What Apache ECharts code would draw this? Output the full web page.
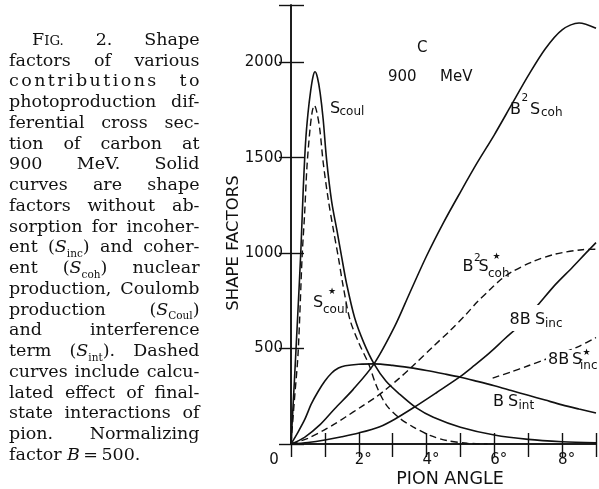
<!DOCTYPE html>
<html><head><meta charset="utf-8">
<script src="https://cdn.jsdelivr.net/npm/echarts@6/dist/echarts.min.js"></script>
<style>html,body{margin:0;padding:0;background:#fff}#c{width:599px;height:489px}</style>
</head><body><div id="c"></div>
<script>
// ---------------- data ----------------
const xTickValues = [2, 4, 6, 8];            // labelled pion angles (deg)
const yTickValues = [500, 1000, 1500, 2000]; // labelled shape factors

const scoulX = [0,0.1,0.2,0.29,0.36,0.43,0.5,0.58,0.65,0.71,0.78,0.86,0.95,1.05,1.2,1.36,1.5,1.64,1.88,2.15,2.45,2.8,3.2,3.7,4.2,5.0,6.0,7.0,8.0,9.0];
const scoulY = [0,330,680,1010,1330,1580,1730,1850,1925,1950,1920,1840,1700,1490,1270,1115,975,840,660,530,420,330,262,189,140,88,47,24,12,6];

const scoulStarX = [0,0.1,0.21,0.33,0.4,0.47,0.56,0.63,0.69,0.76,0.85,0.95,1.1,1.25,1.4,1.54,1.74,2.0,2.29,2.52,2.81,3.2,3.6,4.1,4.6,5.2,5.8];
const scoulStarY = [0,230,478,990,1200,1450,1648,1745,1775,1740,1648,1475,1280,1123,975,826,651,530,420,305,205,136,90,45,18,4,0];

const cohX = [0,0.4,0.85,1.29,1.83,2.45,3.06,3.5,4.0,4.5,5.0,5.5,6.0,6.5,7.0,7.5,8.0,8.5,9.0];
const cohY = [0,35,100,185,285,420,616,790,985,1160,1320,1475,1620,1775,1930,2070,2170,2206,2178];

const cohStarX = [0,0.5,1.0,1.29,1.6,2.08,2.5,2.76,3.2,3.6,4.19,4.7,5.17,5.5,5.85,6.15,6.5,7.13,7.8,8.6,9.0];
const cohStarY = [0,30,75,105,140,196,245,280,345,410,510,595,680,745,805,855,900,955,995,1018,1020];

const incX = [0,0.5,1,1.5,2,2.62,3.06,3.7,4.3,4.97,5.4,5.85,6.3,6.8,7.27,7.8,8.3,8.7,9.0];
const incY = [0,8,21,38,58,91,130,200,270,350,410,476,550,630,725,835,925,1000,1055];

const incStarX = [5.95,6.5,7.0,7.47,8.0,8.5,9.0];
const incStarY = [345,378,410,441,475,512,558];

const intX = [0,0.2,0.41,0.6,0.8,1.0,1.2,1.4,1.6,2.0,2.45,3.0,3.5,4.0,4.5,5.0,5.5,6.0,6.5,7.0,7.5,8.0,8.5,9.0];
const intY = [0,60,130,210,275,330,372,398,410,418,420,412,400,385,368,350,328,305,280,255,230,205,183,162];

const captionLines = [
  "F{sc:IG.} 2. Shape",
  "factors of various",
  "~contributions to",
  "photoproduction dif-",
  "ferential cross sec-",
  "tion of carbon at",
  "900 MeV. Solid",
  "curves are shape",
  "factors without ab-",
  "sorption for incoher-",
  "ent ({i:S}{sub:inc}) and coher-",
  "ent ({i:S}{sub:coh}) nuclear",
  "production, Coulomb",
  "production ({i:S}{sub:Coul})",
  "and interference",
  "term ({i:S}{sub:int}). Dashed",
  "curves include calcu-",
  "lated effect of final-",
  "state interactions of",
  "pion. Normalizing",
  "factor {i:B}\u2009=\u2009500."
];

// ---------------- helpers ----------------
const zip = (xs, ys) => xs.map((x, i) => [x, ys[i]]);
const SANS = '"DejaVu Sans", sans-serif';
const SERIF = '"DejaVu Serif", serif';
function txt(t, x, base, size, o) {
  o = o || {};
  return {
    type: 'text', x: x, y: base - 0.35 * size, z: 100, silent: true,
    scaleX: o.scaleX || 1,
    rotation: o.rotation || 0,
    style: {
      text: t,
      font: (o.italic ? 'italic ' : '') + size + 'px ' + (o.family || SANS),
      fill: o.fill || '#111',
      textAlign: o.align || 'left', align: o.align || 'left',
      textVerticalAlign: 'middle', verticalAlign: 'middle'
    }
  };
}

// ---------------- caption (justified) ----------------
const graphics = [];
const ctx = document.createElement('canvas').getContext('2d');
const F = 17.5;
function fontStr(s) { return (s.it ? 'italic ' : '') + s.size + 'px ' + SERIF; }
function parseWord(w) {
  const segs = [];
  const re = /\{(i|sub|sc):([^}]*)\}|([^{]+)/g;
  let m;
  while ((m = re.exec(w))) {
    if (m[3]) segs.push({ t: m[3], size: F, it: false, dy: 0 });
    else if (m[1] === 'i') segs.push({ t: m[2], size: F, it: true, dy: 0 });
    else if (m[1] === 'sub') segs.push({ t: m[2], size: F * 0.6, it: false, dy: F * 0.22 });
    else segs.push({ t: m[2], size: F * 0.76, it: false, dy: 0 });
  }
  segs.forEach(s => { ctx.font = fontStr(s); s.w = ctx.measureText(s.t).width; });
  return segs;
}
const capLeft = 9, capRight = 199.5, capBase0 = 46.5, capStep = 20.75;
captionLines.forEach((raw, li) => {
  let line = raw, spaced = false;
  if (line[0] === '~') { spaced = true; line = line.slice(1); }
  const base = capBase0 + li * capStep;
  const left = li === 0 ? 32 : capLeft;
  let words = line.split(' ').map(parseWord);
  if (spaced) {
    words = words.map(ws => {
      const out = [];
      ws.forEach(s => s.t.split('').forEach(ch => {
        const c = { t: ch, size: s.size, it: s.it, dy: s.dy };
        ctx.font = fontStr(c); c.w = ctx.measureText(ch).width; out.push(c);
      }));
      return out;
    });
  }
  const ls = spaced ? 2.4 : 0;
  const wWidth = ws => ws.reduce((a, s) => a + s.w, 0) + ls * (ws.length - 1);
  const widths = words.map(wWidth);
  const sum = widths.reduce((a, b) => a + b, 0);
  const last = li === captionLines.length - 1;
  let gap = last ? F * 0.3 : (words.length > 1 ? (capRight - left - sum) / (words.length - 1) : 0);
  let sc = 1;
  if (!last && gap < F * 0.2) { gap = F * 0.2; sc = (capRight - left - gap * (words.length - 1)) / sum; }
  let x = left;
  words.forEach((ws) => {
    ws.forEach(s => {
      graphics.push(txt(s.t, x, base + s.dy, s.size, { family: SERIF, italic: s.it, scaleX: sc }));
      x += s.w * sc + ls;
    });
    x -= ls;
    x += gap;
  });
});

// ---------------- chart labels ----------------
const yTitle = txt('SHAPE FACTORS', 0, 0, 16.5, { align: 'center' });
yTitle.x = 234; yTitle.y = 243; yTitle.rotation = Math.PI / 2;
graphics.push(yTitle);
graphics.push(txt('PION ANGLE', 450, 486, 17.5, { align: 'center' }));
graphics.push(txt('C', 417, 53, 15));
graphics.push(txt('900', 388, 82, 15));
graphics.push(txt('MeV', 440, 82, 15));
graphics.push(txt('S', 330, 114, 16), txt('coul', 339.5, 116, 12));
graphics.push(txt('S', 313, 308, 16), txt('\u2605', 328, 295, 9), txt('coul', 323, 314, 12));
graphics.push(txt('B', 510, 115, 16), txt('2', 521.5, 102, 10.5), txt('S', 530, 115, 16), txt('coh', 541, 117.5, 12));
graphics.push(txt('B', 462.5, 272, 16), txt('2', 474, 262, 10.5), txt('S', 478.5, 272, 16), txt('\u2605', 492.5, 260, 9), txt('coh', 488, 278, 12));
graphics.push({ type: 'rect', z: 50, silent: true, shape: { x: 508, y: 305, width: 56, height: 26 }, style: { fill: '#fff' } });
graphics.push(txt('8B', 509.5, 325, 16), txt('S', 535, 325, 16), txt('inc', 545, 328.5, 12));
graphics.push({ type: 'rect', z: 50, silent: true, shape: { x: 546, y: 350, width: 51, height: 23 }, style: { fill: '#fff' } });
graphics.push(txt('8B', 548, 365, 16), txt('S', 572, 365, 16), txt('\u2605', 582.5, 356, 9), txt('inc', 580, 370.5, 12));
graphics.push(txt('B', 493, 407, 16), txt('S', 508, 407, 16), txt('int', 518.5, 410.5, 12));

// ---------------- chart ----------------
const chart = echarts.init(document.getElementById('c'), null, { renderer: 'canvas' });
const axisLine = { show: true, lineStyle: { color: '#111', width: 1.5 } };
const solid = { color: '#111', width: 1.6, type: 'solid' };
const dashed = { color: '#111', width: 1.4, type: [7, 4] };
function mk(name, xs, ys, style) {
  return {
    name: name, type: 'line', data: zip(xs, ys), showSymbol: false, symbol: 'none',
    smooth: 0.3, lineStyle: style, z: 5, animation: false
  };
}
chart.setOption({
  animation: false,
  backgroundColor: '#fff',
  grid: { left: 291, right: 1, top: 5, bottom: 45, containLabel: false },
  xAxis: [{
    type: 'value', min: 0, max: 9, interval: 1, position: 'bottom',
    axisLine: axisLine, splitLine: { show: false },
    axisTick: { show: true, inside: true, length: 11, lineStyle: { color: '#111', width: 1.4 } },
    axisLabel: {
      margin: 9, color: '#111', fontFamily: SANS, fontSize: 15,
      formatter: v => v === 0 ? '{z|0}' : (xTickValues.indexOf(v) >= 0 ? '{t|' + v + '\u00b0}' : ''),
      rich: {
        z: { fontFamily: SANS, fontSize: 15, color: '#111', padding: [0, 34, 0, 0] },
        t: { fontFamily: SANS, fontSize: 15, color: '#111', padding: [0, 0, 0, 9] }
      }
    }
  }, {
    type: 'value', min: 0, max: 9, interval: 1, position: 'top',
    axisLine: axisLine, splitLine: { show: false }, axisLabel: { show: false },
    axisTick: { show: true, inside: true, length: 13, lineStyle: { color: '#111', width: 1.4 } }
  }],
  yAxis: [{
    type: 'value', min: 0, max: 2300, interval: 500, position: 'left',
    axisLine: axisLine, splitLine: { show: false },
    axisTick: { show: true, inside: true, length: 13, lineStyle: { color: '#111', width: 1.4 } },
    axisLabel: {
      margin: 8, color: '#111', fontFamily: SANS, fontSize: 15,
      formatter: v => yTickValues.indexOf(v) >= 0 ? String(v) : ''
    }
  }, {
    type: 'value', min: 0, max: 2300, interval: 500, position: 'right',
    axisLine: axisLine, splitLine: { show: false }, axisLabel: { show: false },
    axisTick: { show: true, inside: true, length: 12, lineStyle: { color: '#111', width: 1.4 } }
  }],
  series: [
    mk('S_coul', scoulX, scoulY, solid),
    mk('S*_coul', scoulStarX, scoulStarY, dashed),
    mk('B2 S_coh', cohX, cohY, solid),
    mk('B2 S*_coh', cohStarX, cohStarY, dashed),
    mk('8B S_inc', incX, incY, solid),
    mk('8B S*_inc', incStarX, incStarY, dashed),
    mk('B S_int', intX, intY, solid)
  ],
  graphic: { elements: graphics }
});
</script></body></html>
